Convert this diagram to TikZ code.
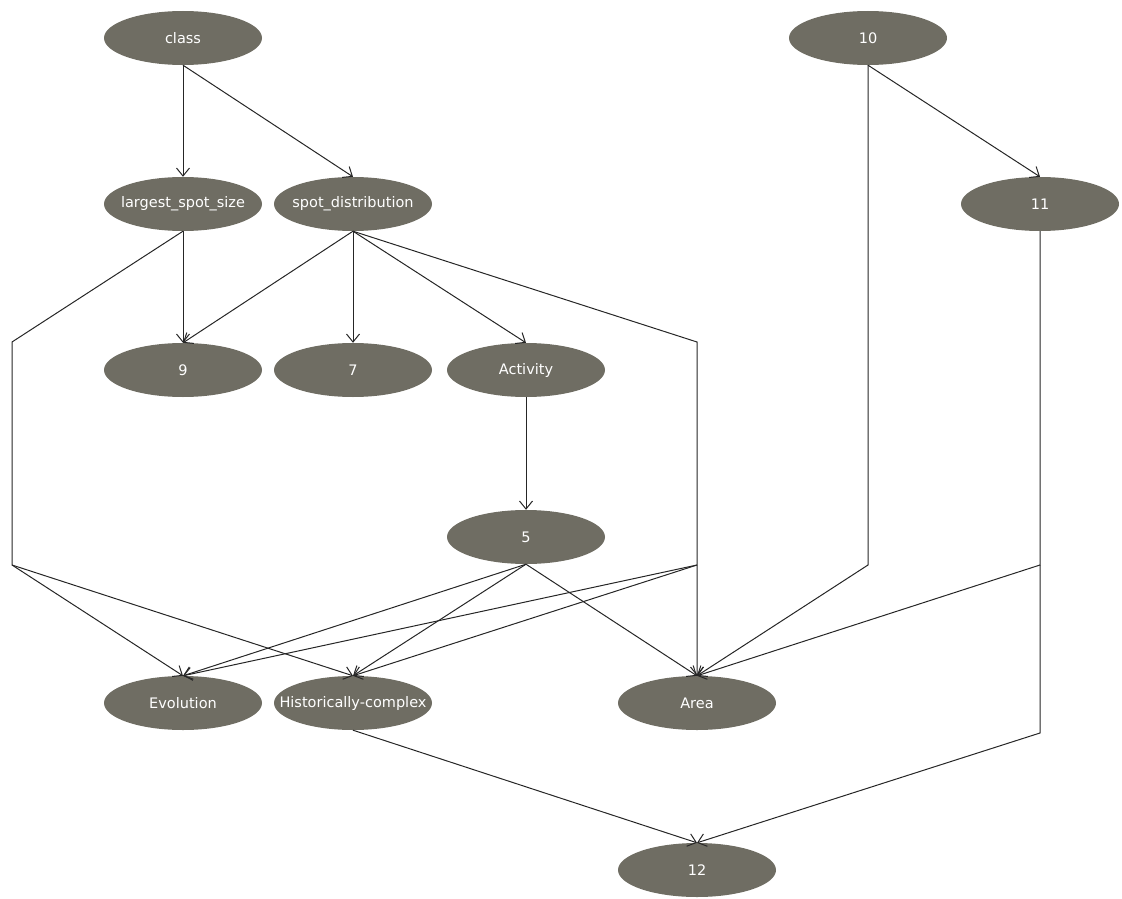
\documentclass[tikz,border=0pt]{standalone}
\usepackage{fontspec}
\setmainfont{DejaVu Sans}
\usetikzlibrary{shapes.geometric,arrows.meta}
\definecolor{nodefill}{RGB}{111,109,99}
\newcommand{\fixw}[1]{\makebox[0pt][c]{#1}}
\begin{document}
\begin{tikzpicture}[x=1pt,y=-1pt,
  bnode/.style={ellipse,fill=nodefill,draw=none,minimum width=158pt,minimum height=54pt,inner sep=0pt,text=white,font=\fontsize{14.5}{16}\selectfont},
  edge/.style={draw=black!85,line width=1pt},
  arr/.style={edge,-{Straight Barb[length=8pt,width=13pt,line width=1pt]}}]
\useasboundingbox (0,0) rectangle (1122,899);
\node[bnode] (class) at (183,38) {\fixw{class}};
\node[bnode] (n10) at (868,38) {\fixw{10}};
\node[bnode] (lss) at (183,204) {\fixw{largest\_spot\_size}};
\node[bnode] (sd) at (353,204) {\fixw{spot\_distribution}};
\node[bnode] (n11) at (1040,204) {\fixw{11}};
\node[bnode] (n9) at (183,370) {\fixw{9}};
\node[bnode] (n7) at (353,370) {\fixw{7}};
\node[bnode] (act) at (526,370) {\fixw{Activity}};
\node[bnode] (n5) at (526,537) {\fixw{5}};
\node[bnode] (evo) at (183,703) {\fixw{Evolution}};
\node[bnode] (hist) at (353,703) {\fixw{Historically-complex}};
\node[bnode] (area) at (697,703) {\fixw{Area}};
\node[bnode] (n12) at (697,870) {\fixw{12}};
\coordinate (bl1) at (12,342);
\coordinate (bl2) at (12,565);
\coordinate (bs1) at (697,342);
\coordinate (bs2) at (697,565);
\coordinate (b10) at (868,565);
\coordinate (b11a) at (1040,565);
\coordinate (b11b) at (1040,733);
% edges
\draw[arr] (class.south) -- (lss.north);
\draw[arr] (class.south) -- (sd.north);
\draw[arr] (n10.south) -- (n11.north);
\draw[arr] (n10.south) -- (b10) -- (area.north);
\draw[arr] (lss.south) -- (n9.north);
\draw[arr] (lss.south) -- (bl1) -- (bl2) -- (evo.north);
\draw[arr] (bl2) -- (hist.north);
\draw[arr] (sd.south) -- (n9.north);
\draw[arr] (sd.south) -- (n7.north);
\draw[arr] (sd.south) -- (act.north);
\draw[arr] (sd.south) -- (bs1) -- (area.north);
\draw[arr] (bs2) -- (evo.north);
\draw[arr] (bs2) -- (hist.north);
\draw[arr] (act.south) -- (n5.north);
\draw[arr] (n5.south) -- (evo.north);
\draw[arr] (n5.south) -- (hist.north);
\draw[arr] (n5.south) -- (area.north);
\draw[arr] (n11.south) -- (b11a) -- (area.north);
\draw[arr] (b11a) -- (b11b) -- (n12.north);
\draw[arr] (hist.south) -- (n12.north);
\end{tikzpicture}
\end{document}
